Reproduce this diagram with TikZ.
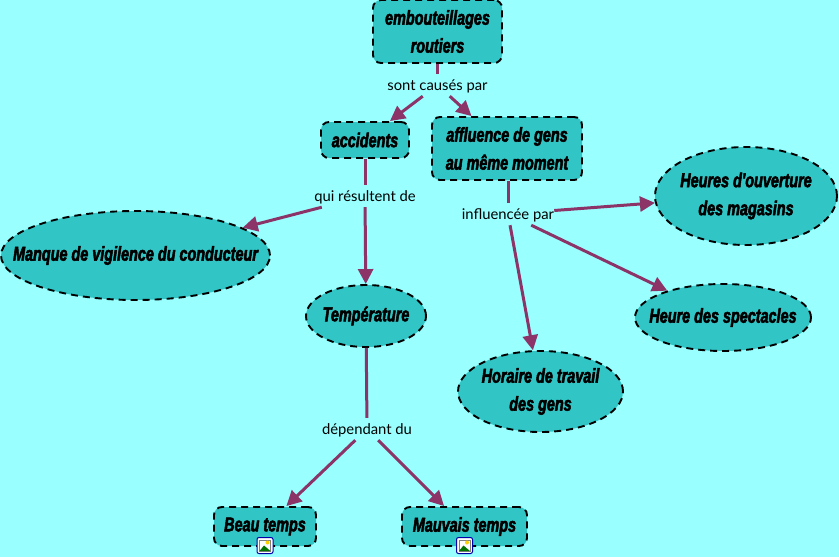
\documentclass[tikz,border=0pt]{standalone}
\usepackage{fontspec}
\usetikzlibrary{arrows.meta,shapes.geometric}
\setmainfont{Lato}
\newfontfamily\dispfont[FakeStretch=0.72,FakeBold=2.5]{Liberation Sans}
\definecolor{bgc}{HTML}{99FFFF}
\definecolor{tealc}{HTML}{31C5C5}
\definecolor{linkc}{HTML}{8C3468}
\tikzset{
  x=1pt,y=-1pt,
  conceptbase/.style={draw=black,fill=tealc,line width=1.9pt,dash pattern=on 7pt off 5pt,
    inner sep=0pt,align=center,font=\dispfont\bfseries\itshape\fontsize{20}{28}\selectfont},
  boxc/.style={conceptbase,rectangle,rounded corners=8pt},
  ellc/.style={conceptbase,ellipse,inner xsep=-60pt,inner ysep=-15pt},
  lab/.style={inner sep=0pt,minimum height=22pt,text height=14pt,text depth=3pt,font=\fontsize{14.8}{16}\selectfont,text=black},
  link/.style={draw=linkc,line width=3pt},
  arr/.style={link,-{Triangle[length=15pt,width=15pt]}},
  imgicon/.pic={
    \draw[draw=blue!65!black,fill=white,line width=1pt,rounded corners=2pt] (-8,-8) rectangle (8,8);
    \fill[fill=white,draw=gray,line width=.5pt] (-5.5,-5.5) rectangle (5.5,5.5);
    \fill[fill=yellow!70!orange] (2.5,-3) circle (2);
    \fill[fill=green!45!black] (-5.5,5.5) -- (-1,0) -- (5.5,5.5) -- cycle;
  }
}
\begin{document}
\begin{tikzpicture}
\useasboundingbox (0,0) rectangle (839,557);
\fill[bgc] (0,0) rectangle (839,557);
\node[boxc,minimum width=129pt,minimum height=63pt] (emb) at (437.5,31.5) {embouteillages\\routiers};
\node[boxc,minimum width=88pt,minimum height=36pt] (acc) at (365,140) {accidents};
\node[boxc,minimum width=150pt,minimum height=63pt] (aff) at (507,148.5) {affluence de gens\\au même moment};
\node[ellc,minimum width=269pt,minimum height=89pt] (man) at (135.5,255.5) {Manque de vigilence du conducteur};
\node[ellc,minimum width=120pt,minimum height=62pt] (tem) at (366,316) {Température};
\node[ellc,minimum width=182pt,minimum height=98pt] (heu) at (746,196) {Heures d'ouverture\\des magasins};
\node[ellc,minimum width=176pt,minimum height=67pt] (spe) at (723,317.5) {Heure des spectacles};
\node[ellc,minimum width=165pt,minimum height=81pt] (hor) at (540.5,391.5) {Horaire de travail\\des gens};
\node[boxc,minimum width=102pt,minimum height=39pt] (bea) at (265,526.5) {Beau temps};
\node[boxc,minimum width=125pt,minimum height=39pt] (mau) at (464.5,526.5) {Mauvais temps};
\node[lab,minimum width=100pt] (l1) at (437.5,85) {sont causés par};
\node[lab,minimum width=110pt] (l2) at (365,196) {qui résultent de};
\node[lab,minimum width=90pt] (l3) at (508,214) {influencée par};
\node[lab,minimum width=90pt] (l4) at (367,429) {dépendant du};
\draw[link] (emb) -- (l1);
\draw[arr] (l1) -- (acc);
\draw[arr] (l1) -- (aff);
\draw[link] (acc) -- (l2);
\draw[arr] (l2) -- (man);
\draw[arr] (l2) -- (tem);
\draw[link] (aff.south -| l3) -- (l3);
\draw[arr] (l3) -- (heu);
\draw[arr] (l3) -- (spe);
\draw[arr] (l3) -- (hor);
\draw[link] (tem) -- (l4);
\draw[arr] (l4) -- (bea);
\draw[arr] (l4) -- (mau);
\pic at (265,545.5) {imgicon};
\pic at (464.5,545.5) {imgicon};
\end{tikzpicture}
\end{document}
